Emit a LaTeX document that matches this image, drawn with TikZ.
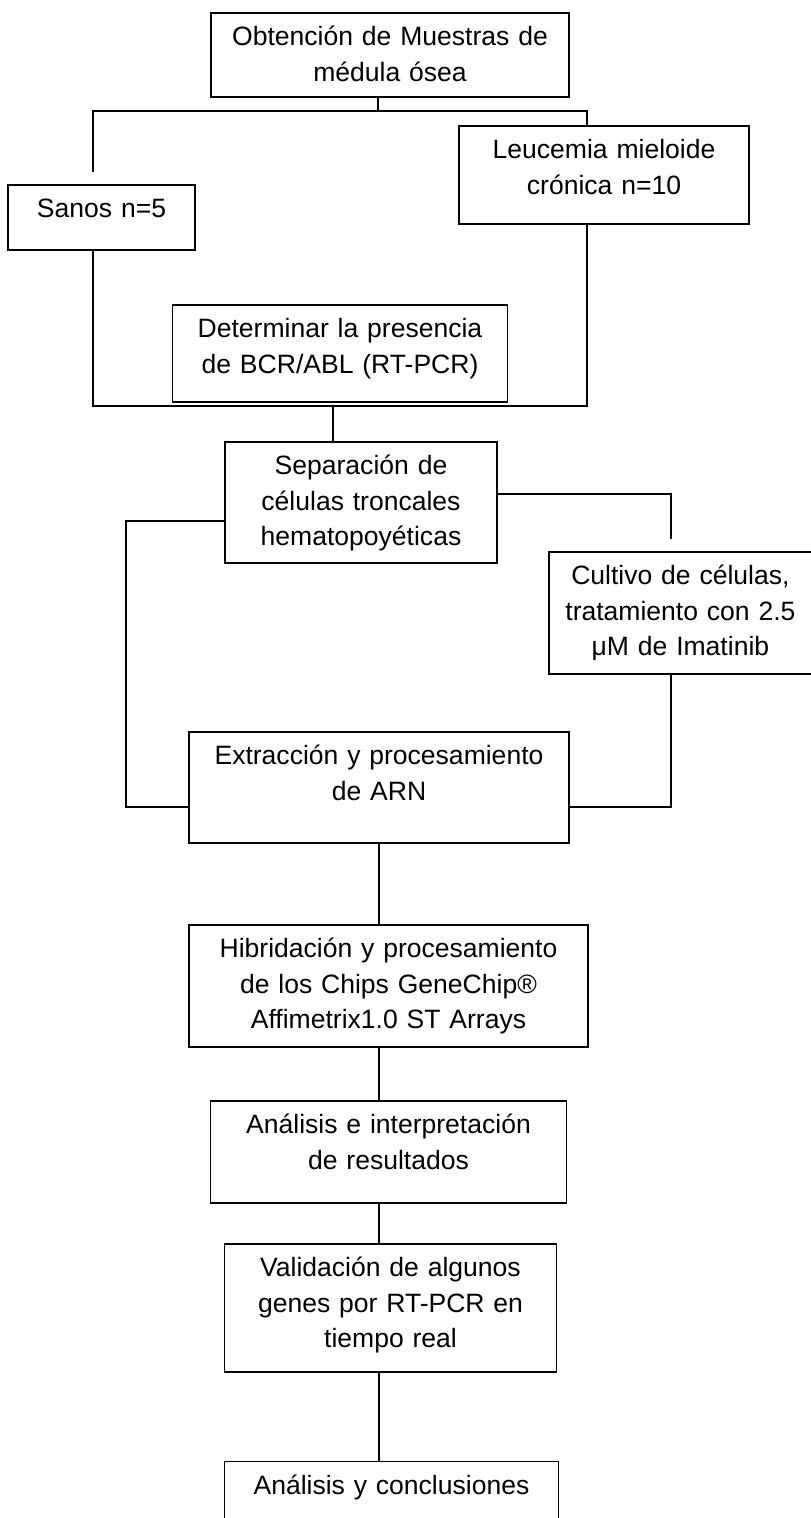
\documentclass[tikz,border=0pt]{standalone}
\usepackage{fontspec}
\setmainfont{Liberation Sans}
\usetikzlibrary{positioning}

\begin{document}
\begin{tikzpicture}[
  box/.style={rectangle, draw, line width=1.1pt, inner sep=0pt, align=center, text height=0.66cm, font=\fontsize{15.1}{20.2}\selectfont},
  line/.style={line width=1.1pt}
]
\clip (0,0) rectangle (16.22,-30.36);

% Nodes
\node[box, text width=7.16cm, text depth=1.02cm, anchor=north] (obt) at (7.8,-0.24) {Obtención de Muestras de\\médula ósea};
\node[box, text width=3.74cm, text depth=0.64cm, below=1.72cm of obt, xshift=-5.77cm] (sanos) {Sanos n=5};
\node[box, text width=5.8cm, text depth=1.30cm, below=0.54cm of obt, xshift=4.28cm] (leuc) {Leucemia mieloide\\crónica n=10};
\node[box, text width=6.7cm, text depth=1.28cm, below=4.12cm of obt, xshift=-1.0cm] (det) {Determinar la presencia\\de BCR/ABL (RT-PCR)};
\node[box, text width=5.44cm, text depth=1.76cm, below=0.76cm of det, xshift=0.42cm] (sep) {Separación de\\células troncales\\hematopoyéticas};
\node[box, text width=5.26cm, text depth=1.78cm, right=1.0cm of sep, yshift=-2.21cm] (cult) {Cultivo de células,\\tratamiento con 2.5\\μM de Imatinib};
\node[box, text width=7.6cm, text depth=1.56cm, below=3.34cm of sep, xshift=0.36cm] (ext) {Extracción y procesamiento\\de ARN};
\node[box, text width=7.98cm, text depth=1.78cm, below=1.6cm of ext, xshift=0.19cm] (hib) {Hibridación y procesamiento\\de los Chips GeneChip®\\Affimetrix1.0 ST Arrays};
\node[box, text width=7.12cm, text depth=1.38cm, below=1.04cm of hib] (ana) {Análisis e interpretación\\de resultados};
\node[box, text width=6.64cm, text depth=1.90cm, below=0.78cm of ana, xshift=0.04cm] (val) {Validación de algunos\\genes por RT-PCR en\\tiempo real};
\node[box, text width=6.68cm, text depth=1.34cm, below=1.76cm of val, xshift=0.02cm] (con) {Análisis y conclusiones};

% Junctions and free ends
\coordinate (j1) at ([xshift=-0.24cm, yshift=-0.26cm]obt.south);
\coordinate (j2) at ([xshift=-0.14cm, yshift=-0.06cm]det.south);
\coordinate (sanosin) at ([xshift=-0.17cm, yshift=0.24cm]sanos.north);
\coordinate (cultin) at ([xshift=-0.19cm, yshift=0.24cm]cult.north);

% Connectors
\draw[line] (obt.south -| j1) -- (j1);
\draw[line] ([xshift=-0.34cm]leuc.north) |- (j1) -| (sanosin);
\draw[line] ([xshift=-0.17cm]sanos.south) |- (j2) -| ([xshift=-0.34cm]leuc.south);
\draw[line] (j2) -- (j2 |- sep.north);
\draw[line] ([yshift=-0.37cm]sep.west) -- ++(-1.96,0) |- ([yshift=-0.39cm]ext.west);
\draw[line] ([yshift=0.17cm]sep.east) -| (cultin);
\draw[line] ([xshift=-0.19cm]cult.south) |- ([yshift=-0.39cm]ext.east);
\draw[line] (ext.south) -- (ext.south |- hib.north);
\draw[line] (ext.south |- hib.south) -- (ext.south |- ana.north);
\draw[line] (ext.south |- ana.south) -- (ext.south |- val.north);
\draw[line] (ext.south |- val.south) -- (ext.south |- con.north);

\end{tikzpicture}
\end{document}
